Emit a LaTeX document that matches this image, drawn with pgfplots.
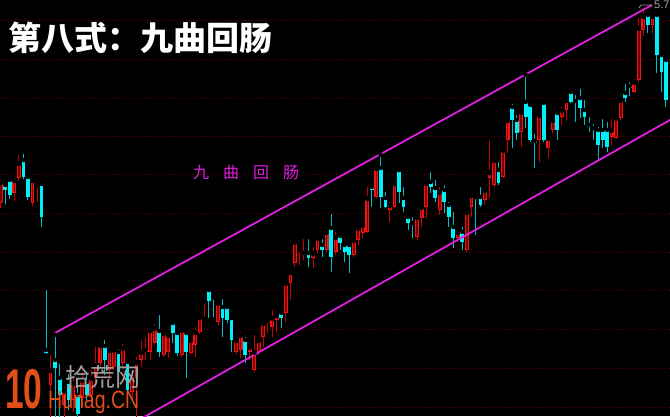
\documentclass[border=0pt]{standalone}
\usepackage{pgfplots}
\pgfplotsset{compat=1.18}
\usepackage{pgfplotstable}
\usepackage{graphicx}
\usepackage{fontspec}
\setmainfont{Liberation Sans}
\newfontfamily\cjk{Noto Sans CJK SC}
\definecolor{upred}{RGB}{240,20,20}
\definecolor{upfill}{RGB}{125,0,0}
\definecolor{upwick}{RGB}{200,0,0}
\definecolor{dncyan}{RGB}{0,240,250}
\definecolor{dnwick}{RGB}{0,190,200}
\definecolor{chan}{RGB}{225,30,225}
\definecolor{gridred}{RGB}{105,0,0}
\definecolor{wmorange}{RGB}{225,80,25}

% i = bar index; o,h,l,c measured downward from the top of the chart
\pgfplotstableread{
i o h l c
0 203 178 208 182
1 185 181 204 190
2 180 177 199 195
3 193 178 201 180
4 178 153 181 163
5 160 152 179 177
6 177 174 200 197
7 203 178 206 180
8 188 183 202 185
9 184 183 227 217
10 350 288 354 353
11 385 353 430 370
12 360 335 425 368
13 378 362 420 395
14 405 385 425 390
15 382 372 410 400
16 400 375 412 383
17 395 385 425 414
18 398 370 408 380
19 382 372 402 395
20 395 368 400 378
21 378 345 388 365
22 363 340 368 345
23 346 338 375 360
24 370 345 380 350
25 367 346 370 350
26 352 347 378 372
27 363 342 367 348
28 362 358 395 390
29 392 370 400 375
30 378 355 420 362
31 360 338 367 352
32 352 335 360 350
33 352 328 360 330
34 343 322 345 328
35 331 313 357 352
36 355 332 357 333
37 352 334 358 335
38 323 320 343 333
39 333 332 356 353
40 355 329 357 330
41 333 331 378 352
42 353 338 355 340
43 345 325 357 332
44 332 314 334 317
45 304 297 317 301
46 290 288 318 301
47 298 297 317 300
48 322 300 325 303
49 307 297 337 318
50 307 305 323 320
51 318 316 352 340
52 352 337 354 340
53 350 330 358 335
54 340 335 363 355
55 352 345 360 347
56 370 333 372 352
57 352 337 355 340
58 337 322 347 323
59 323 320 333 321
60 327 308 337 318
61 320 313 332 315
62 313 312 328 318
63 313 282 322 283
64 283 271 300 272
65 263 240 267 242
66 252 247 265 250
67 255 237 260 253
68 253 237 267 258
69 258 245 268 253
70 250 233 253 238
71 245 237 257 250
72 250 228 252 232
73 228 212 272 257
74 252 230 255 237
75 236 232 250 243
76 245 243 262 252
77 245 243 273 255
78 255 238 257 240
79 240 227 245 228
80 233 222 238 225
81 232 185 233 198
82 187 185 207 190
83 197 167 198 168
84 168 155 208 197
85 198 190 208 207
86 210 200 222 205
87 207 180 208 183
88 170 170 203 192
89 198 185 212 207
90 217 213 230 223
91 223 215 238 225
92 237 216 240 217
93 218 206 227 207
94 207 180 218 183
95 182 170 193 187
96 188 178 202 198
97 210 185 215 192
98 190 183 213 202
99 205 200 227 217
100 227 210 248 238
101 238 230 242 232
102 232 225 250 242
103 250 210 252 212
104 207 194 217 195
105 197 195 235 198
106 197 185 207 205
107 200 188 205 190
108 178 138 198 172
109 185 158 187 160
110 170 160 185 183
111 177 148 178 150
112 140 117 153 120
113 107 102 148 120
114 120 113 140 133
115 132 110 147 112
116 102 75 128 117
117 105 103 142 140
118 141 132 168 143
119 140 113 162 115
120 103 102 142 140
121 148 135 158 138
122 130 117 133 120
123 113 112 140 130
124 117 105 125 110
125 110 98 120 100
126 92 90 103 102
127 101 93 122 103
128 98 87 118 108
129 110 98 125 117
130 125 115 132 127
131 128 122 140 130
132 130 125 160 145
133 130 117 148 140
134 130 120 152 147
135 137 117 145 130
136 138 116 139 118
137 118 97 120 100
138 93 82 102 98
139 86 80 96 88
140 92 77 93 82
141 80 16 82 28
142 30 6 36 16
143 15 12 33 25
144 25 14 33 16
145 15 13 73 55
146 55 53 92 72
147 60 58 107 100
}\kdata

\begin{document}
\begin{tikzpicture}
\fill[black] (0,0) rectangle (670pt,416pt);
\useasboundingbox (0,0) rectangle (670pt,416pt);
\begin{axis}[
  at={(0,0)}, anchor=south west,
  width=670pt, height=416pt, scale only axis,
  xmin=-0.177, xmax=147.89, ymin=0, ymax=416, y dir=reverse,
  axis line style={draw=none},
  xtick=\empty,
  ytick={20,59,98,136,174,213,252,290,329,368,407},
  yticklabels={},
  major tick length=0pt,
  ymajorgrids,
  grid style={gridred, line width=0.8pt, dash pattern=on 1pt off 2.5pt},
]
% wicks, rising bars
\addplot[only marks, mark=none,
  restrict expr to domain={\thisrow{o}-\thisrow{c}}{0.5:1000},
  error bars/.cd, y dir=plus, y explicit, error mark=none,
  error bar style={draw=upwick, line width=1pt}]
  table[x=i, y=h, y error expr=\thisrow{l}-\thisrow{h}] {\kdata};
% wicks, falling bars
\addplot[only marks, mark=none,
  restrict expr to domain={\thisrow{o}-\thisrow{c}}{-1000:0.5},
  error bars/.cd, y dir=plus, y explicit, error mark=none,
  error bar style={draw=dnwick, line width=1pt}]
  table[x=i, y=h, y error expr=\thisrow{l}-\thisrow{h}] {\kdata};
% bodies, rising
\addplot[only marks, mark=none,
  restrict expr to domain={\thisrow{o}-\thisrow{c}}{0.5:1000},
  error bars/.cd, y dir=plus, y explicit, error mark=none,
  error bar style={draw=upred, line width=3.8pt}]
  table[x=i, y expr={min(\thisrow{o},\thisrow{c})},
        y error expr={max(abs(\thisrow{o}-\thisrow{c}),1.2)}] {\kdata};
\addplot[only marks, mark=none,
  restrict expr to domain={\thisrow{o}-\thisrow{c}}{2.5:1000},
  error bars/.cd, y dir=plus, y explicit, error mark=none,
  error bar style={draw=upfill, line width=1.6pt}]
  table[x=i, y expr={min(\thisrow{o},\thisrow{c})+0.9},
        y error expr={abs(\thisrow{o}-\thisrow{c})-1.8}] {\kdata};
% bodies, falling
\addplot[only marks, mark=none,
  restrict expr to domain={\thisrow{o}-\thisrow{c}}{-1000:0.5},
  error bars/.cd, y dir=plus, y explicit, error mark=none,
  error bar style={draw=dncyan, line width=3.8pt}]
  table[x=i, y expr={min(\thisrow{o},\thisrow{c})},
        y error expr={max(abs(\thisrow{o}-\thisrow{c}),1.2)}] {\kdata};
% channel lines
\addplot[chan, line width=1.8pt, no marks] coordinates {(11.98,333) (143.9,5)};
\addplot[chan, line width=1.8pt, no marks] coordinates {(30.76,419.4) (150.1,114.3)};
\end{axis}
% annotations
\draw[gray!80, line width=0.8pt] (639pt,408pt) -- (641pt,411pt) -- (652pt,411pt);
\node[anchor=west, inner sep=0pt, text=gray!70, font=\fontsize{11pt}{11pt}\selectfont] at (654pt,411.5pt) {5.75};
\node[anchor=west, inner sep=0pt, text=white, font=\cjk\bfseries\fontsize{33pt}{33pt}\selectfont] at (8pt,378pt) {第八式：九曲回肠};
\node[anchor=west, inner sep=0pt, text=chan, font=\cjk\fontsize{16pt}{16pt}\selectfont] at (193pt,244pt) {九\hspace{14pt}曲\hspace{14pt}回\hspace{14pt}肠};
% watermark
\node[anchor=base west, inner sep=0pt, text=wmorange, font=\bfseries\fontsize{56pt}{56pt}\selectfont] at (5pt,8pt) {\scalebox{0.6}[1]{10}};
\node[anchor=west, inner sep=0pt, text=gray!75, font=\cjk\fontsize{25pt}{25pt}\selectfont] at (65pt,38.5pt) {拾荒网};
\node[anchor=base west, inner sep=0pt, text=wmorange, font=\fontsize{25pt}{25pt}\selectfont] at (48pt,8pt) {\scalebox{0.78}[1]{Hunag.CN}};
\end{tikzpicture}
\end{document}
